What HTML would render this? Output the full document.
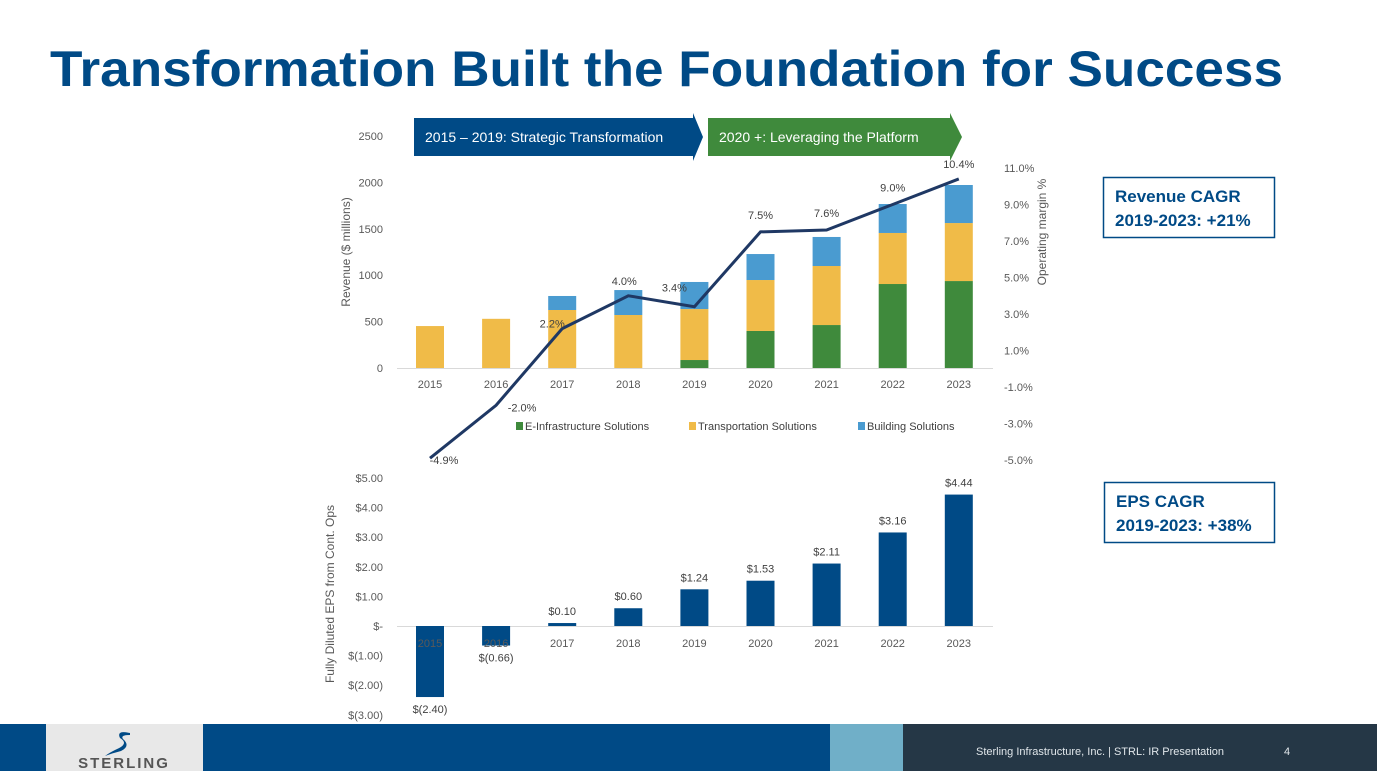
<!DOCTYPE html>
<html><head><meta charset="utf-8"><style>
body{margin:0;width:1377px;height:771px;overflow:hidden;background:#fff;font-family:"Liberation Sans",sans-serif}
svg text{font-family:"Liberation Sans",sans-serif}
</style></head><body>
<svg id="s" width="1377" height="771" viewBox="0 0 1377 771">
<text x="50" y="86" font-size="50" font-weight="bold" fill="#004a86" textLength="1233" lengthAdjust="spacingAndGlyphs">Transformation Built the Foundation for Success</text>
<polygon points="414,118 693,118 693,113 703,137 693,161 693,156 414,156" fill="#004a86"/>
<text x="425" y="142" font-size="14" fill="#fff">2015 – 2019: Strategic Transformation</text>
<polygon points="708,118 950,118 950,113 962,137 950,161 950,156 708,156" fill="#3f8a3c"/>
<text x="719" y="142" font-size="14" fill="#fff">2020 +: Leveraging the Platform</text>
<rect x="1103.5" y="177.5" width="171" height="60" fill="none" stroke="#004a86" stroke-width="1.5"/>
<text x="1115" y="202" font-size="17" font-weight="bold" fill="#004a86">Revenue CAGR</text>
<text x="1115" y="226" font-size="17" font-weight="bold" fill="#004a86">2019-2023: +21%</text>
<rect x="1104.5" y="482.5" width="170" height="60" fill="none" stroke="#004a86" stroke-width="1.5"/>
<text x="1116" y="507" font-size="17" font-weight="bold" fill="#004a86">EPS CAGR</text>
<text x="1116" y="531" font-size="17" font-weight="bold" fill="#004a86">2019-2023: +38%</text>
<g id="topchart"></g>
<g id="bot"></g>
<rect x="0" y="724" width="830" height="47" fill="#004a86"/>
<rect x="46" y="724" width="157" height="47" fill="#e8e8e8"/>
<path d="M130,733 q-14,-3 -10,5 q10,6 -5,12 q-6,3 -10,6 q8,-3 16,-5 q10,-5 2,-12 q-3,-4 7,-4z" fill="#004a86"/>
<text x="124" y="768" font-size="15" font-weight="bold" fill="#555" text-anchor="middle" letter-spacing="2">STERLING</text>
<rect x="830" y="724" width="73" height="47" fill="#70afc8"/>
<rect x="903" y="724" width="474" height="47" fill="#253746"/>
<text x="976" y="755" font-size="11" fill="#e0e6ea">Sterling Infrastructure, Inc. | STRL:  IR Presentation</text>
<text x="1284" y="755" font-size="11" fill="#e0e6ea">4</text>
</svg>
<script>
const years=["2015","2016","2017","2018","2019","2020","2021","2022","2023"];
const eInfra=[0,0,0,0,86,399,463,905,937];
const transport=[452,530,625,571,549,549,636,550,625];
const building=[0,0,151,269,292,280,313,312,410];
const margin=[-4.9,-2.0,2.2,4.0,3.4,7.5,7.6,9.0,10.4];
const marginLabels=["-4.9%","-2.0%","2.2%","4.0%","3.4%","7.5%","7.6%","9.0%","10.4%"];
const revTicks=[0,500,1000,1500,2000,2500];
const pctTicks=[-5,-3,-1,1,3,5,7,9,11];
const eps=[-2.40,-0.66,0.10,0.60,1.24,1.53,2.11,3.16,4.44];
const epsLabels=["$(2.40)","$(0.66)","$0.10","$0.60","$1.24","$1.53","$2.11","$3.16","$4.44"];
const epsTicks=[5,4,3,2,1,0,-1,-2,-3];
const epsTickLabels=["$5.00","$4.00","$3.00","$2.00","$1.00","$-","$(1.00)","$(2.00)","$(3.00)"];
const NS="http://www.w3.org/2000/svg";
function mk(p,t,a,txt){const e=document.createElementNS(NS,t);for(const k in a)e.setAttribute(k,a[k]);if(txt!==undefined)e.textContent=txt;p.appendChild(e);return e;}
const X=i=>430+i*66.1;
const Yr=v=>368-v*0.0928;
const Yp=v=>168+(11-v)*18.25;
const Ye=v=>626-v*29.6;
const topG=document.getElementById('topchart'),bot=document.getElementById('bot');
revTicks.forEach(t=>{const e=mk(topG,'text',{x:383,y:Yr(t)+4,'font-size':11,fill:'#595959','text-anchor':'end'},String(t));

});
pctTicks.forEach(t=>{const e=mk(topG,'text',{x:1004,y:Yp(t)+4,'font-size':11,fill:'#595959'},t.toFixed(1)+'%');

});
let ax=mk(topG,'line',{x1:397,x2:993,y1:368.5,y2:368.5,stroke:'#d9d9d9'});


let t1=mk(topG,'text',{transform:'translate(350,252) rotate(-90)','font-size':12,fill:'#595959','text-anchor':'middle'},'Revenue ($ millions)');


let t2=mk(topG,'text',{transform:'translate(1046,232) rotate(-90)','font-size':12,fill:'#595959','text-anchor':'middle'},'Operating margin %');


years.forEach((y,i)=>{
 const x=X(i)-14;let b=0;
 [[eInfra,'#3f8a3c','bar-e-infrastructure'],[transport,'#f0bb48','bar-transportation'],[building,'#4a9bd0','bar-building']].forEach(([arr,c,n])=>{
  const v=arr[i];if(v>0){const r=mk(topG,'rect',{x:x,y:Yr(b+v),width:28,height:Yr(b)-Yr(b+v),fill:c});
  
  }
  b+=v;});
 const l=mk(topG,'text',{x:X(i),y:388,'font-size':11,fill:'#595959','text-anchor':'middle'},y);
 
 
});
const pl=mk(topG,'polyline',{points:margin.map((m,i)=>X(i)+','+Yp(m)).join(' '),fill:'none',stroke:'#1f3864','stroke-width':3});


const off=[[14,6],[26,6],[-10,-1],[-4,-11],[-20,-15],[0,-13],[0,-13],[0,-13],[0,-11]];
margin.forEach((m,i)=>{const e=mk(topG,'text',{x:X(i)+off[i][0],y:Yp(m)+off[i][1],'font-size':11,fill:'#404040','text-anchor':'middle'},marginLabels[i]);

});
[["E-Infrastructure Solutions",516,'#3f8a3c'],["Transportation Solutions",689,'#f0bb48'],["Building Solutions",858,'#4a9bd0']].forEach(([n,x,c])=>{
 const r=mk(topG,'rect',{x:x,y:422,width:7,height:8,fill:c});
 
 
 const t=mk(topG,'text',{x:x+9,y:430,'font-size':11,fill:'#404040'},n);
 
 
});
epsTicks.forEach((t,i)=>{const e=mk(bot,'text',{x:383,y:Ye(t)+4,'font-size':11,fill:'#595959','text-anchor':'end'},epsTickLabels[i]);

});
let ax2=mk(bot,'line',{x1:397,x2:993,y1:626.5,y2:626.5,stroke:'#d9d9d9'});


let t3=mk(bot,'text',{transform:'translate(334,594) rotate(-90)','font-size':12,fill:'#595959','text-anchor':'middle'},'Fully Diluted EPS from Cont. Ops');


eps.forEach((v,i)=>{
 const y0=Ye(0),y1=Ye(v);
 const r=mk(bot,'rect',{x:X(i)-14,y:Math.min(y0,y1),width:28,height:Math.abs(y1-y0),fill:'#004a86'});
 
 
 const ly=v>=0?y1-8:y1+16;
 const l=mk(bot,'text',{x:X(i),y:ly,'font-size':11,fill:'#404040','text-anchor':'middle'},epsLabels[i]);
 
 
 const yl=mk(bot,'text',{x:X(i),y:647,'font-size':11,fill:'#595959','text-anchor':'middle'},years[i]);
 
 
});
</script>
</body></html>
